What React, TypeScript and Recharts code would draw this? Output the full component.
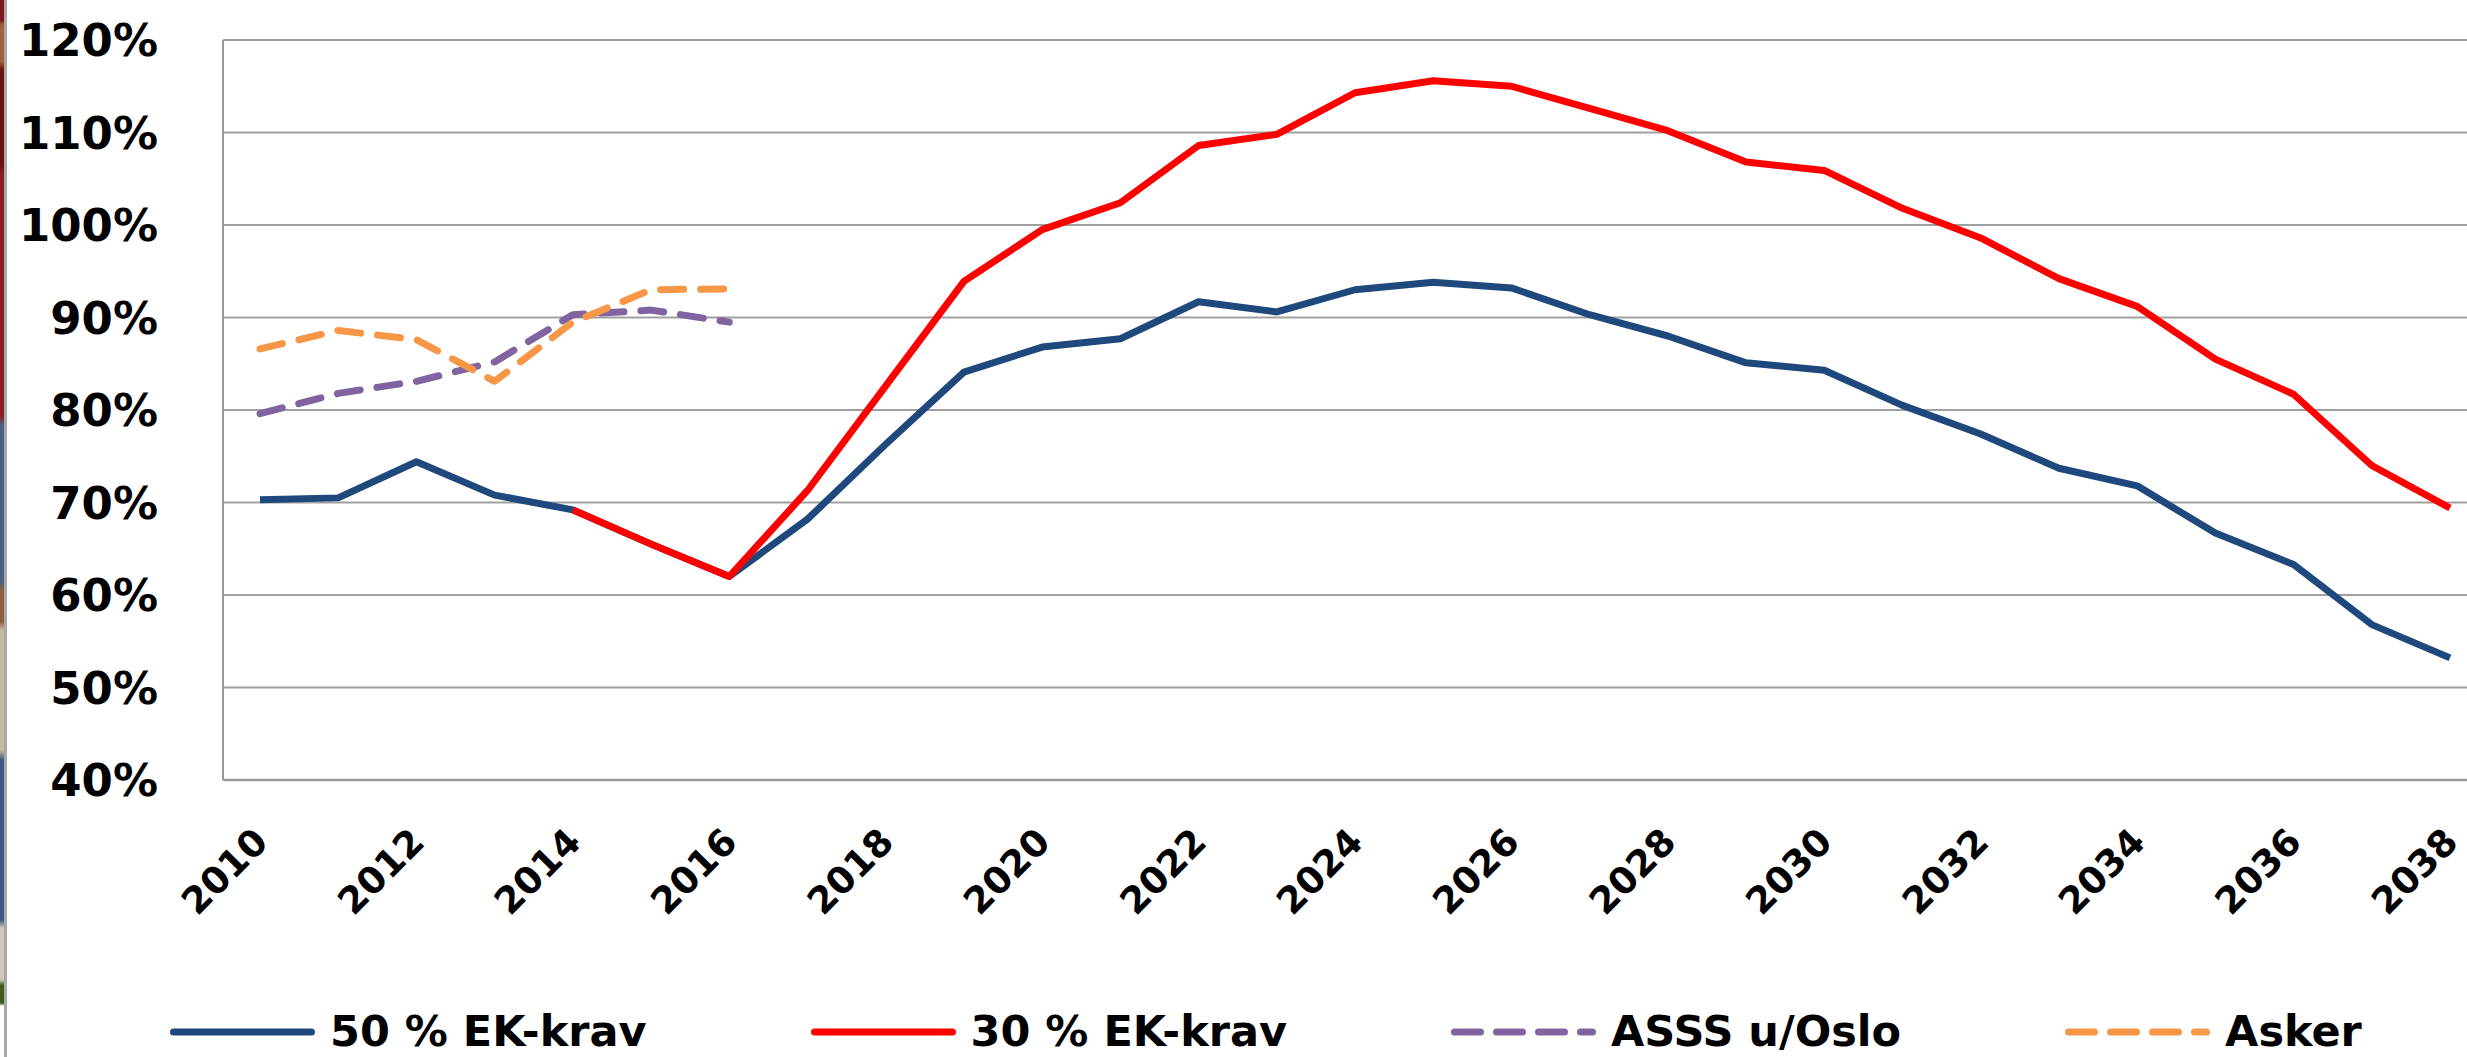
import { LineChart, Line, XAxis, YAxis, CartesianGrid, Legend } from "recharts";

const years = [
  "2010", "2011", "2012", "2013", "2014", "2015", "2016", "2017", "2018", "2019",
  "2020", "2021", "2022", "2023", "2024", "2025", "2026", "2027", "2028", "2029",
  "2030", "2031", "2032", "2033", "2034", "2035", "2036", "2037", "2038",
];

// 50 % EK-krav
const ek50 = [
  70.3, 70.5, 74.4, 70.8, 69.2, 65.5, 62.0, 68.2, 76.3, 84.1,
  86.8, 87.7, 91.7, 90.6, 93.0, 93.8, 93.2, 90.3, 88.0, 85.1,
  84.3, 80.5, 77.4, 73.7, 71.8, 66.7, 63.3, 56.8, 53.2,
];

// 30 % EK-krav (starts in 2014)
const ek30 = [
  null, null, null, null, 69.2, 65.5, 62.0, 71.3, 82.6, 93.9,
  99.5, 102.4, 108.6, 109.8, 114.3, 115.6, 115.0, 112.6, 110.2, 106.8,
  105.9, 101.8, 98.6, 94.2, 91.2, 85.5, 81.7, 74.0, 69.4,
];

// ASSS u/Oslo, historical only
const asss = [79.6, 81.8, 83.1, 85.2, 90.3, 90.8, 89.5];

// Asker, historical only
const asker = [86.6, 88.6, 87.6, 83.1, 89.5, 93.0, 93.1];

const yTicks = [40, 50, 60, 70, 80, 90, 100, 110, 120];

const SERIES = [
  { key: "ek50", name: "50 % EK-krav", color: "#1F497D", dash: "" },
  { key: "ek30", name: "30 % EK-krav", color: "#FF0000", dash: "" },
  { key: "asss", name: "ASSS u/Oslo", color: "#8064A2", dash: "23 17" },
  { key: "asker", name: "Asker", color: "#F79646", dash: "23 17" },
];

const data = years.map((year, i) => ({
  year,
  ek50: ek50[i],
  ek30: ek30[i],
  asss: i < asss.length ? asss[i] : null,
  asker: i < asker.length ? asker[i] : null,
}));

const FONT = "'DejaVu Sans', Verdana, sans-serif";
const GRID = "#a0a0a0";

function YTick({ x, y, payload }: any) {
  return (
    <text x={x} y={y} dy="0.36em" textAnchor="end" fontFamily={FONT} fontWeight="bold" fontSize={45} fill="#000">
      {payload.value}%
    </text>
  );
}

function XTick({ x, y, payload }: any) {
  const tx = x + 10;
  const ty = y + 64;
  return (
    <text
      x={tx}
      y={ty}
      transform={`rotate(-45 ${tx} ${ty})`}
      textAnchor="end"
      fontFamily={FONT}
      fontWeight="bold"
      fontSize={37}
      fill="#000"
    >
      {payload.value}
    </text>
  );
}

function LegendRow() {
  return (
    <div style={{ display: "flex", alignItems: "center", gap: 164, whiteSpace: "nowrap" }}>
      {SERIES.map((s) => (
        <div key={s.key} style={{ display: "flex", alignItems: "center" }}>
          <svg width={145} height={10}>
            <line
              x1={3.5}
              y1={5}
              x2={141.5}
              y2={5}
              stroke={s.color}
              strokeWidth={7}
              strokeLinecap="round"
              strokeDasharray={s.dash ? "26 16" : undefined}
            />
          </svg>
          <span style={{ marginLeft: 15, fontFamily: FONT, fontWeight: "bold", fontSize: 43, color: "#000", lineHeight: 1 }}>
            {s.name}
          </span>
        </div>
      ))}
    </div>
  );
}

const stripe =
  "linear-gradient(to bottom, #7a1a1a 0px, #7a1a1a 20px, #a0603a 25px, #a0603a 62px, #6a1010 70px, #6a1010 165px, #8c1c1c 175px, #8c1c1c 415px, #4a6080 425px, #4a6080 582px, #8a6040 590px, #8a6040 622px, #c8b8a0 630px, #c8b8a0 750px, #3a5a80 760px, #3a5a80 920px, #d0c8b8 928px, #d0c8b8 980px, #405a20 985px, #405a20 1003px, #ffffff 1006px)";

export default function App() {
  return (
    <div
      style={{
        position: "absolute",
        left: 0,
        top: 0,
        width: 2467,
        height: 1057,
        overflow: "hidden",
        background: "#fff",
      }}
    >
      <LineChart width={2493} height={1057} data={data} margin={{ top: 40, right: 6, bottom: 0, left: 0 }}>
        <CartesianGrid vertical={false} stroke={GRID} strokeWidth={2} />
        <XAxis
          dataKey="year"
          interval={1}
          padding={{ left: 37, right: 37 }}
          height={277}
          tickLine={false}
          tickSize={0}
          tickMargin={0}
          axisLine={{ stroke: "#999", strokeWidth: 2.5 }}
          tick={<XTick />}
        />
        <YAxis
          width={223}
          domain={[40, 120]}
          ticks={yTicks}
          interval={0}
          tickLine={false}
          tickSize={0}
          tickMargin={65}
          axisLine={{ stroke: "#999", strokeWidth: 2 }}
          tick={<YTick />}
        />
        {SERIES.map((s) => (
          <Line
            key={s.key}
            dataKey={s.key}
            name={s.name}
            type="linear"
            stroke={s.color}
            strokeWidth={7}
            strokeDasharray={s.dash || undefined}
            strokeLinecap={s.dash ? "round" : "butt"}
            strokeLinejoin="round"
            dot={false}
            activeDot={false}
            isAnimationActive={false}
          />
        ))}
        <Legend
          layout="horizontal"
          verticalAlign="middle"
          align="center"
          wrapperStyle={{ left: 170, top: 1010, width: "auto" }}
          content={() => <LegendRow />}
        />
      </LineChart>
      <div style={{ position: "absolute", left: 0, top: 0, width: 4, height: 1057, background: stripe }} />
      <div style={{ position: "absolute", left: 4, top: 0, width: 3, height: 1057, background: "#a8a8a8" }} />
    </div>
  );
}
